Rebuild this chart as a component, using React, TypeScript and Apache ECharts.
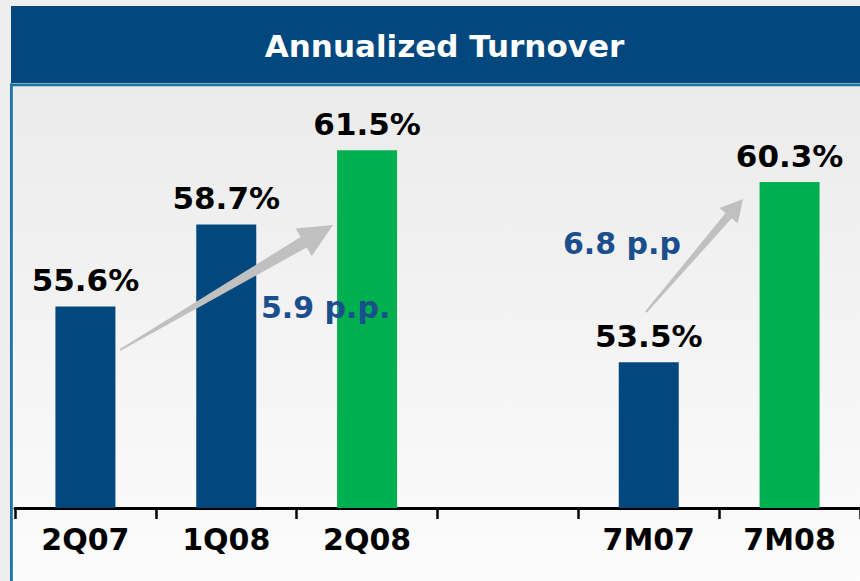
import React, { useEffect, useRef } from "react";
import * as echarts from "echarts";

// ---- data ----
const categories: string[] = ["2Q07", "1Q08", "2Q08", "", "7M07", "7M08"];
const turnover: (number | null)[] = [55.6, 58.7, 61.5, null, 53.5, 60.3];
const highlighted: string[] = ["2Q08", "7M08"];
const titleText = "Annualized Turnover";
const deltaLabels: string[] = ["5.9 p.p.", "6.8 p.p"];

const BLUE = "#02487f";
const GREEN = "#00af50";
const FONT = "DejaVu Sans";

function arrowPoints(
  tail: [number, number],
  tip: [number, number],
  headLen: number,
  headHalf: number,
  shaftHalf: number,
  tailHalf: number
): number[][] {
  const dx = tip[0] - tail[0];
  const dy = tip[1] - tail[1];
  const len = Math.sqrt(dx * dx + dy * dy);
  const ux = dx / len;
  const uy = dy / len;
  const nx = -uy;
  const ny = ux;
  const bx = tip[0] - ux * headLen;
  const by = tip[1] - uy * headLen;
  return [
    [tail[0] - nx * tailHalf, tail[1] - ny * tailHalf],
    [bx - nx * shaftHalf, by - ny * shaftHalf],
    [bx - nx * headHalf, by - ny * headHalf],
    [tip[0], tip[1]],
    [bx + nx * headHalf, by + ny * headHalf],
    [bx + nx * shaftHalf, by + ny * shaftHalf],
    [tail[0] + nx * tailHalf, tail[1] + ny * tailHalf],
  ];
}

export default function App() {
  const ref = useRef<HTMLDivElement>(null);

  useEffect(() => {
    if (!ref.current) return;
    const chart = echarts.init(ref.current, null, { renderer: "svg" });

    const option: any = {
      animation: false,
      backgroundColor: "#eeeeee",
      grid: { left: 15, right: -4, top: 84, height: 424, containLabel: false },
      xAxis: {
        type: "category",
        data: categories,
        axisLine: { show: true, lineStyle: { color: "#000", width: 3 } },
        axisTick: { show: true, length: 11, lineStyle: { color: "#000", width: 2.5 } },
        axisLabel: {
          show: true,
          color: "#000",
          fontFamily: FONT,
          fontWeight: "bold",
          fontSize: 30,
          margin: 16,
          interval: 0,
        },
        splitLine: { show: false },
      },
      yAxis: {
        type: "value",
        min: 48,
        max: 64,
        show: false,
        splitLine: { show: false },
      },
      series: [
        {
          type: "bar",
          barWidth: 60,
          z: 3,
          data: turnover.map((v, i) => ({
            value: v === null ? "-" : v,
            itemStyle: { color: highlighted.includes(categories[i]) ? GREEN : BLUE },
          })),
          label: {
            show: true,
            position: "top",
            distance: 11,
            color: "#000",
            fontFamily: FONT,
            fontWeight: "bold",
            fontSize: 31,
            formatter: (p: any) => (typeof p.value === "number" ? p.value.toFixed(1) + "%" : ""),
          },
        },
      ],
      graphic: [
        // plot area background
        {
          type: "rect",
          z: -10,
          shape: { x: 12, y: 85, width: 860, height: 500 },
          style: {
            fill: new echarts.graphic.LinearGradient(0, 0, 0, 1, [
              { offset: 0, color: "#ebebeb" },
              { offset: 1, color: "#fcfcfc" },
            ]),
          },
        },
        // title bar
        {
          type: "rect",
          z: -5,
          shape: { x: 11, y: 6, width: 860, height: 77 },
          style: { fill: BLUE },
        },
        // borders
        {
          type: "rect",
          z: -4,
          shape: { x: 10, y: 83.5, width: 860, height: 2.8 },
          style: { fill: "#1677a6" },
        },
        {
          type: "rect",
          z: -4,
          shape: { x: 10, y: 83.5, width: 2.8, height: 500 },
          style: { fill: "#1677a6" },
        },
        {
          type: "text",
          z: 10,
          x: 444.5,
          y: 46,
          style: {
            text: titleText,
            fill: "#ffffff",
            font: `bold 31px "${FONT}"`,
            align: "center",
            verticalAlign: "middle",
          },
        },
        // arrows
        {
          type: "polygon",
          z: 10,
          shape: { points: arrowPoints([120, 350], [333, 225], 34, 16, 6, 1) },
          style: { fill: "#c0c0c0" },
        },
        {
          type: "polygon",
          z: 10,
          shape: { points: arrowPoints([646, 312], [743, 199], 22, 12, 4, 1) },
          style: { fill: "#c0c0c0" },
        },
        {
          type: "text",
          z: 11,
          x: 261,
          y: 307,
          style: {
            text: deltaLabels[0],
            fill: "#1b4e8d",
            font: `bold 30px "${FONT}"`,
            align: "left",
            verticalAlign: "middle",
          },
        },
        {
          type: "text",
          z: 11,
          x: 563,
          y: 243,
          style: {
            text: deltaLabels[1],
            fill: "#1b4e8d",
            font: `bold 30px "${FONT}"`,
            align: "left",
            verticalAlign: "middle",
          },
        },
      ],
    };

    chart.setOption(option);
    return () => chart.dispose();
  }, []);

  return (
    <div
      ref={ref}
      style={{ position: "fixed", left: 0, top: 0, width: 860, height: 581 }}
    />
  );
}
